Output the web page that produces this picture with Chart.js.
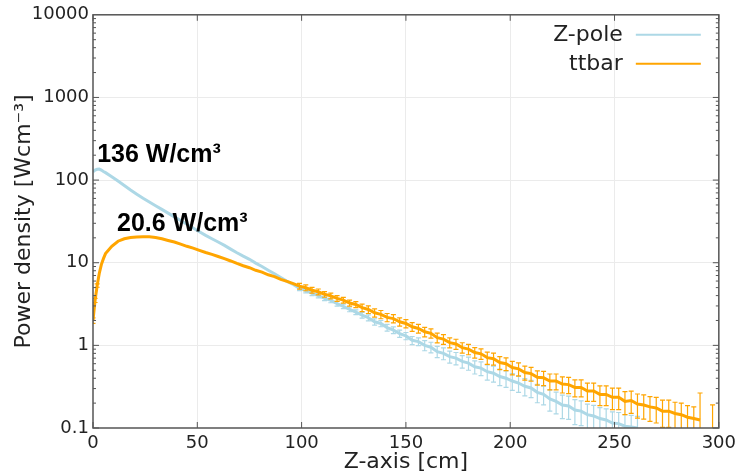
<!DOCTYPE html>
<html>
<head>
<meta charset="utf-8">
<script src="https://cdn.jsdelivr.net/npm/chart.js@4"></script>
<style>
  body { margin: 0; background: #fff; }
</style>
</head>
<body>
<canvas id="powerChart" width="741" height="475"></canvas>
<script>
// z position of each bin [cm]
const zPos = [
  0, 1, 2, 3, 4, 5, 6,
  9, 12, 15, 18, 21, 24, 27, 30, 33, 36,
  39, 42, 45, 48, 51, 54, 57, 60, 63, 66,
  69, 72, 75, 78, 81, 84, 87, 90, 93, 96,
  99, 102, 105, 108, 111, 114, 117, 120, 123, 126,
  129, 132, 135, 138, 141, 144, 147, 150, 153, 156,
  159, 162, 165, 168, 171, 174, 177, 180, 183, 186,
  189, 192, 195, 198, 201, 204, 207, 210, 213, 216,
  219, 222, 225, 228, 231, 234, 237, 240, 243, 246,
  249, 252, 255, 258, 261, 264, 267, 270, 273, 276,
  279, 282, 285, 288, 291, 294, 297
];

// power density [W/cm3]
const zpole = [
  126, 132, 135, 136, 132, 127, 123,
  110, 97.7, 86.1, 75.9, 67.6, 60.3, 54.3, 49.0, 44.2, 39.8,
  35.9, 32.4, 29.2, 26.3, 23.7, 21.4, 19.5, 17.8, 16.2, 14.6,
  13.2, 12.0, 11.0, 9.9, 9.0, 8.1, 7.35, 6.6, 5.95, 5.45,
  4.9, 4.6, 4.25, 4.0, 3.7, 3.5, 3.2, 2.97, 2.73, 2.52,
  2.32, 2.16, 1.93, 1.84, 1.64, 1.53, 1.39, 1.30, 1.15, 1.11,
  1.0, 0.95, 0.84, 0.80, 0.73, 0.70, 0.64, 0.61, 0.55, 0.53,
  0.48, 0.46, 0.42, 0.40, 0.37, 0.35, 0.32, 0.305, 0.27, 0.255,
  0.225, 0.21, 0.19, 0.185, 0.165, 0.16, 0.145, 0.14, 0.13, 0.125,
  0.115, 0.113, 0.105, 0.103, 0.1, null, null, null, null, null,
  null, null, null, null, null, null, null
];
const zpoleErr = [
  1, 1, 1, 1, 1, 1, 1,
  0.8, 0.7, 0.6, 0.5, 0.5, 0.4, 0.4, 0.4, 0.4, 0.4,
  0.4, 0.4, 0.35, 0.35, 0.3, 0.3, 0.3, 0.3, 0.3, 0.3,
  0.25, 0.25, 0.25, 0.25, 0.25, 0.22, 0.22, 0.22, 0.2, 0.2,
  0.3, 0.28, 0.26, 0.25, 0.23, 0.22, 0.21, 0.19, 0.18, 0.17,
  0.19, 0.18, 0.17, 0.16, 0.15, 0.14, 0.14, 0.13, 0.13, 0.12,
  0.14, 0.14, 0.13, 0.13, 0.12, 0.12, 0.11, 0.11, 0.1, 0.1,
  0.1, 0.1, 0.095, 0.09, 0.085, 0.08, 0.075, 0.072, 0.068, 0.065,
  0.065, 0.062, 0.06, 0.058, 0.055, 0.053, 0.05, 0.048, 0.046, 0.045,
  0.042, 0.041, 0.04, 0.039, 0.038, null, null, null, null, null,
  null, null, null, null, null, null, null
];

const ttbar = [
  2.0, 3.5, 5.3, 7.4, 9.5, 11.2, 12.9,
  15.8, 18.2, 19.5, 20.2, 20.5, 20.6, 20.6, 20.2, 19.5, 18.6,
  17.8, 16.8, 15.8, 15.0, 14.1, 13.3, 12.6, 11.9, 11.2, 10.5,
  9.8, 9.2, 8.7, 8.1, 7.7, 7.15, 6.8, 6.3, 5.95, 5.6,
  5.2, 4.98, 4.65, 4.45, 4.15, 3.97, 3.7, 3.53, 3.25, 3.12,
  2.86, 2.72, 2.48, 2.37, 2.18, 2.11, 1.93, 1.84, 1.68, 1.60,
  1.46, 1.40, 1.24, 1.19, 1.08, 1.04, 0.94, 0.90, 0.82, 0.79,
  0.71, 0.69, 0.62, 0.60, 0.54, 0.52, 0.47, 0.455, 0.41, 0.405,
  0.37, 0.37, 0.34, 0.335, 0.31, 0.31, 0.28, 0.28, 0.255, 0.255,
  0.235, 0.235, 0.21, 0.215, 0.195, 0.19, 0.18, 0.175, 0.16, 0.16,
  0.15, 0.145, 0.135, 0.13, 0.125, null, 0.14
];
const ttbarErr = [
  0.15, 0.2, 0.25, 0.3, 0.3, 0.3, 0.3,
  0.3, 0.3, 0.3, 0.3, 0.3, 0.3, 0.3, 0.3, 0.3, 0.3,
  0.3, 0.28, 0.27, 0.26, 0.25, 0.24, 0.23, 0.22, 0.21, 0.2,
  0.2, 0.19, 0.18, 0.18, 0.17, 0.17, 0.16, 0.16, 0.15, 0.15,
  0.42, 0.40, 0.37, 0.36, 0.33, 0.32, 0.30, 0.28, 0.27, 0.26,
  0.30, 0.29, 0.28, 0.27, 0.25, 0.24, 0.22, 0.21, 0.20, 0.19,
  0.19, 0.18, 0.17, 0.16, 0.15, 0.145, 0.135, 0.13, 0.12, 0.115,
  0.12, 0.115, 0.11, 0.105, 0.1, 0.095, 0.09, 0.087, 0.08, 0.08,
  0.08, 0.08, 0.075, 0.075, 0.072, 0.072, 0.07, 0.07, 0.068, 0.068,
  0.068, 0.068, 0.065, 0.065, 0.063, 0.062, 0.06, 0.06, 0.058, 0.058,
  0.055, 0.055, 0.052, 0.05, 0.14, null, 0.05
];

const seriesNames = ['Z-pole', 'ttbar'];
const xTicks = [0, 50, 100, 150, 200, 250, 300];
const yTicks = [0.1, 1, 10, 100, 1000, 10000];

const TICK_FONT = { family: 'DejaVu Sans', size: 18 };
const TITLE_FONT = { family: 'DejaVu Sans', size: 22 };

function toPoints(vals, errs) {
  return zPos.map((z, i) => ({ x: z, y: vals[i], err: errs[i] }));
}

// vertical error bars, drawn right after each dataset
const errorBars = {
  id: 'errorBars',
  afterDatasetDraw(chart, args) {
    const ctx = chart.ctx;
    const a = chart.chartArea;
    const y = chart.scales.y;
    const ds = chart.data.datasets[args.index];
    ctx.save();
    ctx.beginPath();
    ctx.rect(a.left, a.top, a.right - a.left, a.bottom - a.top);
    ctx.clip();
    ctx.strokeStyle = ds.borderColor;
    ctx.lineWidth = 1.2;
    args.meta.data.forEach((pt, i) => {
      const d = ds.data[i];
      if (d.y == null || !d.err) return;
      const lo = d.y - d.err > 0 ? y.getPixelForValue(d.y - d.err) : a.bottom + 5;
      const hi = y.getPixelForValue(d.y + d.err);
      if (lo - hi < 3) return;
      ctx.beginPath();
      ctx.moveTo(pt.x, lo); ctx.lineTo(pt.x, hi);
      ctx.moveTo(pt.x - 2.5, lo); ctx.lineTo(pt.x + 2.5, lo);
      ctx.moveTo(pt.x - 2.5, hi); ctx.lineTo(pt.x + 2.5, hi);
      ctx.stroke();
    });
    ctx.restore();
  }
};

// box, inward ticks, legend and the two peak labels
const decorations = {
  id: 'decorations',
  afterDraw(chart) {
    const { ctx, chartArea: a, scales: { x, y } } = chart;
    ctx.save();
    ctx.strokeStyle = '#555';
    ctx.lineWidth = 1;
    ctx.beginPath();
    xTicks.forEach(v => {
      const px = x.getPixelForValue(v);
      ctx.moveTo(px, a.bottom); ctx.lineTo(px, a.bottom - 6);
      ctx.moveTo(px, a.top); ctx.lineTo(px, a.top + 6);
    });
    for (let e = -1; e < 4; e++) {
      for (let m = 1; m < 10; m++) {
        const py = y.getPixelForValue(m * Math.pow(10, e));
        const len = m === 1 ? 6 : 3;
        ctx.moveTo(a.left, py); ctx.lineTo(a.left + len, py);
        ctx.moveTo(a.right, py); ctx.lineTo(a.right - len, py);
      }
    }
    ctx.stroke();
    ctx.lineWidth = 1.5;
    ctx.strokeRect(a.left, a.top, a.right - a.left, a.bottom - a.top);

    // legend (text right-aligned, line sample to the right)
    ctx.font = '22px "DejaVu Sans"';
    ctx.textAlign = 'right';
    ctx.textBaseline = 'middle';
    chart.data.datasets.forEach((ds, i) => {
      const ty = a.top + 20 + i * 29;
      ctx.fillStyle = '#222';
      ctx.fillText(ds.label, a.right - 96, ty);
      ctx.strokeStyle = ds.borderColor;
      ctx.lineWidth = 2;
      ctx.beginPath();
      ctx.moveTo(a.right - 83, ty); ctx.lineTo(a.right - 18, ty);
      ctx.stroke();
    });

    // peak annotations
    ctx.font = 'bold 25px "Liberation Sans", Arial, sans-serif';
    ctx.textAlign = 'left';
    ctx.textBaseline = 'alphabetic';
    ctx.fillStyle = '#000';
    ctx.fillText('136 W/cm³', x.getPixelForValue(2), y.getPixelForValue(165));
    ctx.fillText('20.6 W/cm³', x.getPixelForValue(11.5), y.getPixelForValue(24.3));
    ctx.restore();
  }
};

const ctx = document.getElementById('powerChart').getContext('2d');
const powerChart = new Chart(ctx, {
  type: 'line',
  data: {
    datasets: [
      {
        label: seriesNames[0],
        data: toPoints(zpole, zpoleErr),
        borderColor: '#add8e6',
        borderWidth: 3,
        pointRadius: 0,
        tension: 0,
        order: 1,
      },
      {
        label: seriesNames[1],
        data: toPoints(ttbar, ttbarErr),
        borderColor: '#ffa500',
        borderWidth: 3,
        pointRadius: 0,
        tension: 0,
        order: 0,
      },
    ],
  },
  options: {
    responsive: false,
    animation: false,
    devicePixelRatio: 1,
    layout: { padding: { left: 0, right: 20, top: 13, bottom: 0 } },
    plugins: {
      legend: { display: false },
      tooltip: { enabled: false },
    },
    scales: {
      x: {
        type: 'linear',
        min: 0,
        max: 300,
        afterBuildTicks: s => { s.ticks = xTicks.map(v => ({ value: v })); },
        afterFit: s => { s.height = 47; },
        ticks: { font: TICK_FONT, color: '#222', padding: 5, maxRotation: 0 },
        grid: {
          color: c => (c.tick && c.tick.value > 0 && c.tick.value < 300) ? '#ebebeb' : 'transparent',
          drawTicks: false,
        },
        border: { display: false },
        title: {
          display: true,
          text: 'Z-axis [cm]',
          font: TITLE_FONT,
          color: '#222',
          padding: { top: 0, bottom: 0 },
        },
      },
      y: {
        type: 'logarithmic',
        min: 0.1,
        max: 10000,
        afterBuildTicks: s => { s.ticks = yTicks.map(v => ({ value: v })); },
        afterFit: s => { s.width = 93; },
        ticks: {
          font: TICK_FONT,
          color: '#222',
          padding: 4,
          autoSkip: false,
          callback: v => String(v),
        },
        grid: {
          color: c => (c.tick && c.tick.value > 0.1 && c.tick.value < 10000) ? '#ebebeb' : 'transparent',
          drawTicks: false,
        },
        border: { display: false },
        title: {
          display: true,
          text: 'Power density [Wcm⁻³]',
          font: TITLE_FONT,
          color: '#222',
          padding: { top: 11, bottom: 0 },
        },
      },
    },
  },
  plugins: [errorBars, decorations],
});
</script>
</body>
</html>
